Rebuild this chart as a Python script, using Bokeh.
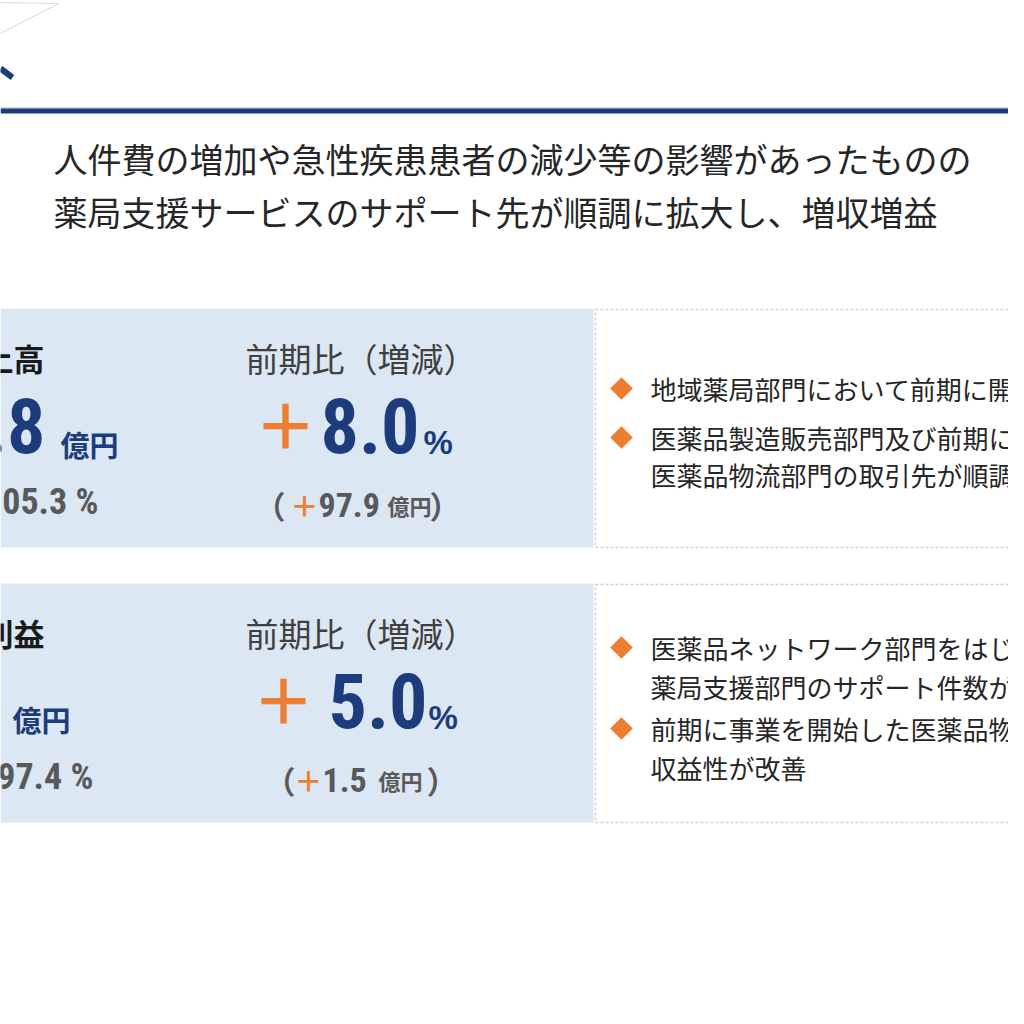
from bokeh.plotting import figure
from bokeh.models import Range1d
from bokeh.core.properties import value
from bokeh.embed import file_html
from bokeh.resources import INLINE

# --- values ----------------------------------------------------------------
headline = [
    "人件費の増加や急性疾患患者の減少等の影響があったものの",
    "薬局支援サービスのサポート先が順調に拡大し、増収増益",
]
metrics = ["売上高", "営業利益"]
amount_tail = [".8", ""]          # rest of the amount is outside the crop
yoy_label = "前期比（増減）"
yoy_pct = [8.0, 5.0]
yoy_amount = [97.9, 1.5]
plan_ratio = [105.3, 97.4]
notes_sales = [
    ["地域薬局部門において前期に開"],
    ["医薬品製造販売部門及び前期に", "医薬品物流部門の取引先が順調"],
]
notes_profit = [
    ["医薬品ネットワーク部門をはじ", "薬局支援部門のサポート件数が"],
    ["前期に事業を開始した医薬品物", "収益性が改善"],
]

NAVY = "#1d3c7b"
ORANGE = "#ed7d31"
PANEL = "#dce7f4"
GREY = "#595959"
JP = "Noto Sans CJK JP"
NUM = "'Liberation Sans Narrow', 'Arial Narrow', 'Roboto Condensed', Roboto"

p = figure(width=1008, height=1008, x_range=Range1d(0, 1008), y_range=Range1d(1008, 0),
           output_backend="svg", toolbar_location=None, min_border=0)
p.axis.visible = False
p.grid.visible = False
p.outline_line_color = None
p.background_fill_color = "white"


def txt(x, y, s, size, color, font=JP, bold=False, align="left"):
    p.text(x=[x], y=[y], text=[s], text_font=value(font), text_font_size=value(f"{size}px"),
           text_font_style="bold" if bold else "normal", text_color=color,
           text_align=align, text_baseline="middle")


# header decoration
p.segment(x0=[0, 58], y0=[2, 3], x1=[58, 0], y1=[3, 33], line_color="#d9d9d9", line_width=1)
p.segment(x0=[0], y0=[68], x1=[12], y1=[77], line_color=NAVY, line_width=6)
p.segment(x0=[0], y0=[107.5], x1=[1030], y1=[107.5], line_color="#9fb2d3", line_width=1)
p.segment(x0=[0], y0=[110.5], x1=[1030], y1=[110.5], line_color=NAVY, line_width=5)

# headline
for i, line in enumerate(headline):
    txt(53, 158 + 53 * i, line, 34, "#262626")

# panels
panel_top = [308, 583]
panel_h = 239
unit_x = [60, 12]
plus_x = [285, 283]
pct_x = [320, 328]
pctsign_x = [423, 428]
ratio_right = [98, 93]
sub = [  # x of （, ＋, amount, 億円, ）
    [254, 304, 318, 387, 429],
    [264, 308, 322, 378, 426],
]
notes = [notes_sales, notes_profit]

for i in range(2):
    t = panel_top[i]
    p.quad(left=[0], right=[593], top=[t], bottom=[t + panel_h], fill_color=PANEL, line_color=None)
    p.quad(left=[595], right=[1030], top=[t + 1], bottom=[t + panel_h], fill_color="white",
           line_color="#ccd5e1", line_width=1.5, line_dash="3 2")

    txt(44, t + 49, metrics[i], 31, "#1a1a1a", bold=True, align="right")
    txt(245, t + 49, yoy_label, 33, "#404040")

    if amount_tail[i]:
        txt(45, t + 117, amount_tail[i], 76, NAVY, font=NUM, bold=True, align="right")
    txt(unit_x[i], t + 135, "億円", 29, NAVY, bold=True)

    txt(plus_x[i], t + 114, "＋", 62, ORANGE, bold=True, align="center")
    txt(pct_x[i], t + 117, f"{yoy_pct[i]:.1f}", 76, NAVY, font=NUM, bold=True)
    txt(pctsign_x[i], t + 134, "%", 33, NAVY, font="Liberation Sans", bold=True)

    txt(ratio_right[i], t + 193, f"{plan_ratio[i]:.1f} %", 36, GREY, font=NUM, bold=True,
        align="right")

    sx = sub[i]
    txt(sx[0], t + 196, "（", 31, GREY, bold=True)
    txt(sx[1], t + 196, "＋", 28, ORANGE, bold=True, align="center")
    txt(sx[2], t + 196, f"{yoy_amount[i]:.1f}", 34, GREY, font=NUM, bold=True)
    txt(sx[3], t + 196, "億円", 22, GREY, bold=True)
    txt(sx[4], t + 196, "）", 31, GREY, bold=True)

    # bullet notes
    yy = t + (80 if i == 0 else 64)
    bullets_y = []
    for note in notes[i]:
        bullets_y.append(yy)
        for line in note:
            txt(650, yy, line, 26, "#262626")
            yy += 37 if i == 0 else 39
        yy += 12 if i == 0 else 3
    p.scatter(x=[621] * len(bullets_y), y=bullets_y, marker="square", size=16, angle=0.785398,
              fill_color=ORANGE, line_color=None)

open("out.html", "w").write(file_html(p, INLINE))
